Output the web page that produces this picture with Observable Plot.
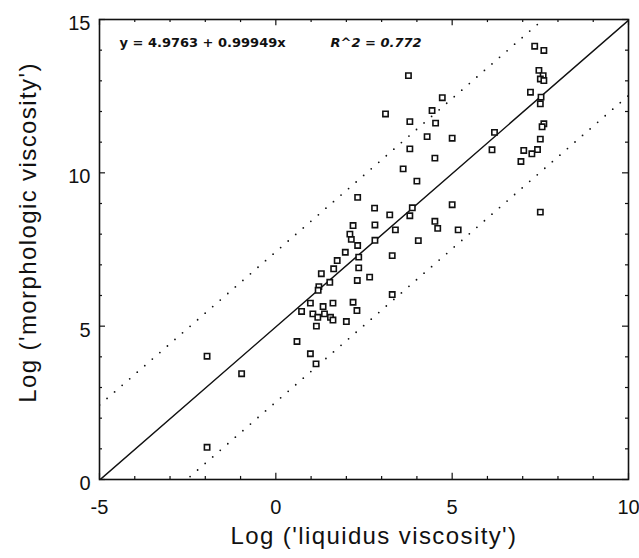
<!DOCTYPE html>
<html>
<head>
<meta charset="utf-8">
<script src="https://cdn.jsdelivr.net/npm/d3@7"></script>
<script src="https://cdn.jsdelivr.net/npm/@observablehq/plot@0.6"></script>
<style>
  html, body { margin: 0; padding: 0; background: #fff; }
  #chart svg { display: block; }
</style>
</head>
<body>
<div id="chart"></div>
<script>
// Observed points: log liquidus viscosity (x) vs log morphologic viscosity (y)
const liquidusLog = [
  -1.95, -1.95, -0.97,
  0.6, 0.98, 1.14, 1.15, 2.0, 0.73, 0.98, 1.05, 1.38, 1.34, 1.62, 1.55, 1.19, 1.62, 2.19, 2.3,
  1.22, 1.2, 1.53, 1.29, 1.64, 1.74, 1.97, 2.35, 2.35, 2.31, 2.66, 3.3, 2.32, 2.14, 2.1, 2.19,
  2.81, 2.81, 2.8, 3.23, 3.39, 3.3, 3.87, 3.8, 4.04, 2.32, 4.0, 3.61, 3.8, 3.8, 3.11, 3.76,
  4.29, 4.43, 4.53, 4.72, 4.51, 5.0, 5.0, 4.51, 4.59, 5.17,
  6.2, 6.13, 7.03, 6.95, 7.34, 7.6, 7.46, 7.58, 7.5, 7.6, 7.22, 7.52, 7.5, 7.6, 7.55, 7.5,
  7.42, 7.26, 7.5
];
const morphologicLog = [
  4.02, 1.05, 3.45,
  4.5, 4.1, 3.77, 5.0, 5.15, 5.48, 5.75, 5.4, 5.4, 5.64, 5.75, 5.29, 5.29, 5.2, 5.78, 5.51,
  6.29, 6.17, 6.43, 6.71, 6.87, 7.14, 7.41, 7.25, 6.9, 6.49, 6.6, 6.03, 7.63, 7.83, 8.0, 8.28,
  7.8, 8.3, 8.85, 8.63, 8.14, 7.3, 8.86, 8.6, 7.79, 9.2, 9.73, 10.13, 10.78, 11.67, 11.92, 13.17,
  11.18, 12.03, 11.62, 12.45, 10.48, 11.13, 8.96, 8.42, 8.19, 8.14,
  11.32, 10.75, 10.73, 10.37, 14.13, 13.99, 13.34, 13.17, 13.06, 13.01, 12.63, 12.47, 12.25, 11.6, 11.5, 11.1,
  10.76, 10.62, 8.72
];

// Fit reported on the chart and the band of the dotted lines
const fitIntercept = 4.9763;
const fitSlope = 0.99949;
const bandHalfWidth = 2.45;
const fitLabel = "y = 4.9763 + 0.99949x";
const r2Label = "R^2 = 0.772";

// Axes
const xDomain = [-5, 10];
const yDomain = [0, 15];
const xTickLabels = [-5, 0, 5, 10];
const yTickLabels = [0, 5, 10, 15];
const xTitle = "Log ('liquidus viscosity')";
const yTitle = "Log ('morphologic viscosity')";

// Build tables
const points = liquidusLog.map((x, i) => ({x, y: morphologicLog[i]}));
const lineFor = (offset) => xDomain.map(x => ({x, y: fitIntercept + offset + fitSlope * x}));
const fitLine = lineFor(0);
const upperBand = lineFor(bandHalfWidth);
const lowerBand = lineFor(-bandHalfWidth);

const xMinor = d3.range(xDomain[0], xDomain[1] + 1, 1);
const yMinor = d3.range(yDomain[0], yDomain[1] + 1, 1);
const tickLen = (v, major) => (v % 5 === 0 ? major : major / 2);
const plainFormat = d => String(d);

const ink = "#111";

const plot = Plot.plot({
  width: 639,
  height: 558,
  marginLeft: 99,
  marginRight: 11,
  marginTop: 19,
  marginBottom: 79,
  x: {domain: xDomain},
  y: {domain: yDomain},
  style: {fontFamily: "'Liberation Sans', Arial, sans-serif", background: "#fff", color: ink},
  marks: [
    Plot.line(upperBand, {x: "x", y: "y", stroke: ink, strokeWidth: 1.8, strokeDasharray: "0,10", strokeLinecap: "round", clip: true}),
    Plot.line(lowerBand, {x: "x", y: "y", stroke: ink, strokeWidth: 1.8, strokeDasharray: "0,10", strokeLinecap: "round", clip: true}),
    Plot.line(fitLine, {x: "x", y: "y", stroke: ink, strokeWidth: 1.5, clip: true}),
    Plot.dot(points, {x: "x", y: "y", symbol: "square", r: 3, stroke: ink, fill: "#fff", strokeWidth: 1.6}),
    // inward ticks on all four sides
    Plot.ruleX(xMinor, {x: d => d, y1: yDomain[0], y2: d => yDomain[0] + tickLen(d, 0.2), stroke: ink, strokeWidth: 1.2}),
    Plot.ruleX(xMinor, {x: d => d, y1: yDomain[1], y2: d => yDomain[1] - tickLen(d, 0.2), stroke: ink, strokeWidth: 1.2}),
    Plot.ruleY(yMinor, {y: d => d, x1: xDomain[0], x2: d => xDomain[0] + tickLen(d, 0.17), stroke: ink, strokeWidth: 1.2}),
    Plot.ruleY(yMinor, {y: d => d, x1: xDomain[1], x2: d => xDomain[1] - tickLen(d, 0.17), stroke: ink, strokeWidth: 1.2}),
    Plot.frame({stroke: ink, strokeWidth: 1.6}),
    Plot.axisX({ticks: xTickLabels, tickFormat: plainFormat, tickSize: 0, tickPadding: 20, fontSize: 20, label: null, fill: ink}),
    Plot.axisY({ticks: yTickLabels, tickFormat: plainFormat, tickSize: 0, tickPadding: 9, fontSize: 20, label: null, dy: 4, fill: ink}),
    Plot.text([xTitle], {frameAnchor: "bottom", textAnchor: "middle", dx: 10, dy: 64, fontSize: 24, text: d => d, fill: ink}),
    Plot.text([yTitle], {frameAnchor: "left", textAnchor: "middle", rotate: -90, dx: -71, dy: -17, fontSize: 24, text: d => d, fill: ink}),
    Plot.text([fitLabel], {frameAnchor: "top-left", dx: 20, dy: 27, textAnchor: "start", lineAnchor: "bottom", fontSize: 13, fontWeight: "bold", fontFamily: "'DejaVu Sans', sans-serif", text: d => d, fill: ink}),
    Plot.text([r2Label], {frameAnchor: "top-left", dx: 231, dy: 27, textAnchor: "start", lineAnchor: "bottom", fontSize: 13, fontWeight: "bold", fontStyle: "italic", fontFamily: "'DejaVu Sans', sans-serif", text: d => d, fill: ink})
  ]
});

// the scanned titles are set with wide tracking
d3.select(plot).selectAll("text")
  .filter(function() { return this.textContent === xTitle || this.textContent === yTitle; })
  .style("letter-spacing", "1.4px");

document.getElementById("chart").appendChild(plot);
</script>
</body>
</html>
